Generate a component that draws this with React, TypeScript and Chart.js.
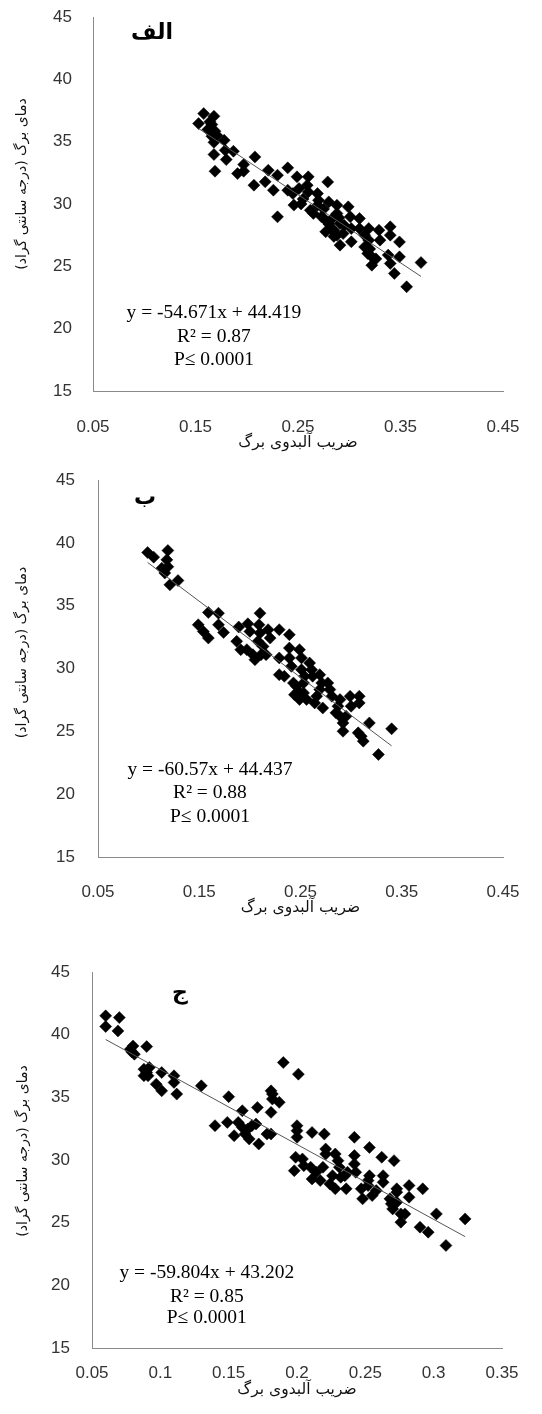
import React, { useEffect, useRef } from "react";
import { Chart, registerables } from "chart.js";

Chart.register(...registerables);

// ---------- data ----------
const albedoA = [
  0.158, 0.153, 0.168, 0.166, 0.162, 0.169, 0.166, 0.168, 0.178, 0.168, 0.179, 0.187, 0.180, 0.169, 0.208,
  0.197, 0.191, 0.197, 0.207, 0.218, 0.221, 0.226, 0.230, 0.240, 0.240, 0.245, 0.249, 0.251, 0.246, 0.230,
  0.260, 0.259, 0.260, 0.269, 0.279, 0.262, 0.265, 0.269, 0.273, 0.277, 0.280, 0.288, 0.288, 0.291, 0.282,
  0.277, 0.288, 0.294, 0.291, 0.299, 0.301, 0.302, 0.302, 0.310, 0.310, 0.315, 0.319, 0.319, 0.315, 0.318,
  0.322, 0.322, 0.329, 0.330, 0.340, 0.340, 0.338, 0.340, 0.344, 0.349, 0.349, 0.356, 0.370, 0.280, 0.285,
  0.290, 0.275, 0.295, 0.320, 0.326, 0.164, 0.171, 0.283, 0.270, 0.255, 0.285, 0.165, 0.253,
];
const leafTempA = [
  37.25, 36.45, 37.04, 36.37, 35.97, 35.84, 35.44, 34.95, 35.11, 33.97, 34.31, 34.23, 33.56, 32.63, 33.78,
  33.16, 32.44, 32.63, 31.51, 31.78, 32.71, 31.11, 32.31, 32.9, 31.11, 30.84, 32.18, 31.24, 29.91, 28.97,
  32.18, 31.51, 30.97, 30.84, 31.77, 29.5, 29.24, 29.9, 28.97, 28.7, 30.17, 29.9, 29.24, 28.43, 28.03,
  27.77, 27.5, 27.63, 26.7, 29.77, 28.97, 28.03, 26.97, 28.84, 28.03, 27.5, 28.03, 27.1, 26.56, 26.03,
  25.76, 25.09, 27.9, 27.1, 28.17, 27.5, 25.9, 25.23, 24.43, 26.96, 25.76, 23.36, 25.3, 28.4, 27.9,
  28.9, 29.6, 28.3, 26.4, 25.6, 36.6, 35.5, 28.8, 30.3, 30.4, 27.4, 36.0, 30.0,
];

const albedoB = [
  0.099, 0.105, 0.119, 0.118, 0.113, 0.119, 0.116, 0.121, 0.129, 0.159, 0.169, 0.149, 0.154, 0.159, 0.169,
  0.174, 0.189, 0.187, 0.191, 0.198, 0.200, 0.197, 0.203, 0.205, 0.210, 0.209, 0.210, 0.208, 0.213, 0.211,
  0.216, 0.218, 0.220, 0.229, 0.229, 0.239, 0.239, 0.229, 0.234, 0.239, 0.241, 0.249, 0.251, 0.243, 0.246,
  0.248, 0.244, 0.249, 0.253, 0.256, 0.251, 0.254, 0.253, 0.259, 0.261, 0.262, 0.264, 0.269, 0.271, 0.269,
  0.266, 0.272, 0.277, 0.279, 0.281, 0.289, 0.287, 0.285, 0.289, 0.292, 0.292, 0.295, 0.299, 0.300, 0.308,
  0.308, 0.307, 0.310, 0.312, 0.318, 0.327, 0.340,
];
const leafTempB = [
  39.23, 38.86, 39.39, 38.65, 37.98, 38.1, 37.6, 36.66, 37.0, 34.46, 34.4, 33.48, 32.95, 32.42, 33.48,
  32.87, 33.3, 32.16, 31.5, 33.56, 32.95, 31.5, 31.1, 30.7, 34.4, 33.48, 32.82, 32.16, 31.76, 31.1,
  31.1, 33.09, 32.42, 33.09, 30.84, 32.69, 31.63, 29.51, 29.38, 30.84, 30.17, 31.5, 30.84, 28.85, 28.58,
  28.19, 27.92, 27.53, 28.06, 27.53, 29.91, 29.38, 28.85, 30.44, 29.91, 29.38, 27.26, 29.51, 28.85, 28.32,
  27.79, 26.86, 28.85, 28.32, 27.79, 27.53, 27.0, 26.47, 26.2, 25.67, 25.01, 26.2, 27.79, 27.0, 27.79,
  27.26, 24.88, 24.61, 24.22, 25.67, 23.16, 25.2,
];

const albedoC = [
  0.060, 0.060, 0.070, 0.069, 0.078, 0.080, 0.081, 0.079, 0.090, 0.088, 0.090, 0.091, 0.088, 0.092, 0.097,
  0.101, 0.101, 0.110, 0.110, 0.112, 0.130, 0.140, 0.150, 0.149, 0.154, 0.160, 0.157, 0.160, 0.162, 0.165,
  0.164, 0.167, 0.170, 0.171, 0.172, 0.181, 0.182, 0.182, 0.181, 0.187, 0.178, 0.181, 0.190, 0.201, 0.200,
  0.200, 0.200, 0.199, 0.204, 0.198, 0.205, 0.211, 0.211, 0.210, 0.214, 0.220, 0.221, 0.221, 0.219, 0.217,
  0.224, 0.228, 0.230, 0.231, 0.228, 0.226, 0.232, 0.236, 0.235, 0.237, 0.242, 0.242, 0.242, 0.243, 0.247,
  0.248, 0.252, 0.253, 0.252, 0.253, 0.255, 0.258, 0.262, 0.263, 0.263, 0.268, 0.269, 0.270, 0.273, 0.273,
  0.273, 0.271, 0.276, 0.276, 0.279, 0.282, 0.282, 0.290, 0.292, 0.296, 0.302, 0.309, 0.323,
];
const leafTempC = [
  41.5, 40.65, 41.36, 40.3, 38.84, 39.1, 38.44, 38.63, 39.05, 37.25, 36.98, 36.72, 36.72, 37.38, 36.05,
  36.98, 35.52, 36.72, 36.19, 35.26, 35.92, 32.74, 35.05, 33.0, 31.94, 33.93, 33.0, 32.6, 32.07, 31.68,
  32.47, 32.74, 32.87, 34.19, 31.28, 35.52, 35.26, 34.86, 33.8, 34.6, 32.07, 32.07, 37.78, 36.85, 32.74,
  32.34, 31.81, 30.22, 30.08, 29.15, 29.55, 32.2, 28.49, 29.42, 29.02, 32.07, 30.88, 30.48, 29.42, 28.36,
  28.09, 30.48, 29.95, 29.42, 27.7, 28.75, 28.62, 27.7, 28.75, 29.02, 31.81, 30.35, 29.68, 29.02, 27.7,
  26.9, 27.96, 28.75, 28.36, 31.0, 27.16, 27.56, 30.22, 28.75, 28.22, 26.9, 26.5, 26.1, 26.63, 27.43,
  27.7, 29.95, 25.7, 25.04, 25.7, 27.96, 27.03, 24.64, 27.7, 24.24, 25.7, 23.18, 25.3,
];

const yTicks = [15, 20, 25, 30, 35, 40, 45];
const xTicksAB = [0.05, 0.15, 0.25, 0.35, 0.45];
const xTicksC = [0.05, 0.1, 0.15, 0.2, 0.25, 0.3, 0.35];

const slopes = [-54.671, -60.57, -59.804];
const intercepts = [44.419, 44.437, 43.202];
const rSquared = ["0.87", "0.88", "0.85"];
const pValueText = "P\u2264 0.0001";
const panelLabels = ["الف", "ب", "ج"];
const xTitle = "\u200Fضریب آلبدوی برگ\u200F";
const yTitle = "\u200Fدمای برگ (درجه سانتی گراد)\u200F";

// ---------- layout (page pixels) ----------
const W = 542;
type Geom = {
  top: number; height: number;
  left: number; plotTop: number; right: number; bottom: number;
  xLabelOff: number; xTitleOff: number; yLabelGap: number; yTitleX: number; yTitleShift: number;
};
const geoms: Geom[] = [
  { top: 0, height: 462, left: 93, plotTop: 17, right: 503, bottom: 391, xLabelOff: 36, xTitleOff: 52, yLabelGap: 21, yTitleX: 22, yTitleShift: -20 },
  { top: 462, height: 460, left: 98, plotTop: 480, right: 503, bottom: 857, xLabelOff: 35, xTitleOff: 51, yLabelGap: 23, yTitleX: 22, yTitleShift: -16 },
  { top: 922, height: 492, left: 92, plotTop: 972, right: 502, bottom: 1348, xLabelOff: 25, xTitleOff: 42, yLabelGap: 22, yTitleX: 23, yTitleShift: -9 },
];
// annotation anchors in data units
const labelAnchors = [
  { x: 0.1076, y: 43.7 },
  { x: 0.0964, y: 43.57 },
  { x: 0.1144, y: 43.3 },
];
const eqAnchors = [
  { x: 0.168, y: [21.26, 19.34, 17.49] },
  { x: 0.1606, y: [21.93, 20.1, 18.19] },
  { x: 0.134, y: [20.98, 19.06, 17.39] },
];

const TICK_SIZE = 17;
const XT_SIZE = 15.5;
const YT_SIZE = 14;

function Panel({ idx, xs, ys, xTicks }: { idx: number; xs: number[]; ys: number[]; xTicks: number[] }) {
  const ref = useRef<HTMLCanvasElement>(null);
  const g = geoms[idx];
  useEffect(() => {
    const canvas = ref.current!;
    const relTop = g.plotTop - g.top;
    const relBottom = g.bottom - g.top;
    const xScaleH = g.height - relBottom;
    const slope = slopes[idx];
    const intercept = intercepts[idx];
    const xmin = Math.min(...xs);
    const xmax = Math.max(...xs);
    const trend = [
      { x: xmin, y: slope * xmin + intercept },
      { x: xmax, y: slope * xmax + intercept },
    ];
    const fmt = (n: number) => (n < 0 ? "-" + Math.abs(n) : String(n));
    const eqLines = [
      `y = ${fmt(slope)}x + ${intercept}`,
      `R\u00B2 = ${rSquared[idx]}`,
      pValueText,
    ];
    const annot = {
      id: "annot" + idx,
      afterDatasetsDraw(chart: any) {
        const ctx = chart.ctx;
        const sx = chart.scales.x;
        const sy = chart.scales.y;
        const area = chart.chartArea;
        ctx.save();
        ctx.fillStyle = "#000";
        ctx.textAlign = "center";
        ctx.textBaseline = "middle";
        ctx.font = "bold 22px 'DejaVu Sans'";
        ctx.fillText(
          "\u200F" + panelLabels[idx] + "\u200F",
          sx.getPixelForValue(labelAnchors[idx].x),
          sy.getPixelForValue(labelAnchors[idx].y)
        );
        ctx.font = "19.5px 'Liberation Serif'";
        const ea = eqAnchors[idx];
        eqLines.forEach((t, i) => {
          ctx.fillText(t, sx.getPixelForValue(ea.x), sy.getPixelForValue(ea.y[i]));
        });
        // y axis title (rotated)
        ctx.save();
        ctx.translate(g.yTitleX, (area.top + area.bottom) / 2 + g.yTitleShift);
        ctx.rotate(-Math.PI / 2);
        ctx.font = `${YT_SIZE}px 'DejaVu Sans'`;
        ctx.fillStyle = "#111";
        ctx.fillText(yTitle, 0, 0);
        ctx.restore();
        ctx.restore();
      },
    };
    const chart = new Chart(canvas, {
      type: "scatter",
      data: {
        datasets: [
          {
            type: "line",
            data: trend,
            borderColor: "#555",
            borderWidth: 1,
            pointRadius: 0,
            fill: false,
            order: 0,
          } as any,
          {
            type: "scatter",
            data: xs.map((x, i) => ({ x, y: ys[i] })),
            pointStyle: "rectRot",
            pointRadius: 6,
            backgroundColor: "#000",
            borderColor: "#000",
            borderWidth: 0.5,
            order: 1,
          } as any,
        ],
      },
      options: {
        responsive: false,
        animation: false,
        layout: { padding: { left: 0, top: relTop, right: W - g.right, bottom: 0 } },
        plugins: { legend: { display: false }, tooltip: { enabled: false } },
        scales: {
          x: {
            type: "linear",
            min: xTicks[0],
            max: xTicks[xTicks.length - 1],
            grid: { display: false, drawTicks: false },
            border: { display: true, color: "#8a8a8a", width: 1 },
            afterBuildTicks: (s: any) => {
              s.ticks = xTicks.map((v) => ({ value: v }));
            },
            afterFit: (s: any) => {
              s.height = xScaleH;
              s.paddingLeft = 0;
              s.paddingRight = 0;
            },
            ticks: {
              font: { family: "'Liberation Sans', Arial, sans-serif", size: TICK_SIZE },
              color: "#333",
              padding: g.xLabelOff - (TICK_SIZE * 1.2) / 2,
              maxRotation: 0,
              autoSkip: false,
              callback: (v: any) => String(v),
            },
            title: {
              display: true,
              text: xTitle,
              font: { family: "'DejaVu Sans'", size: XT_SIZE },
              color: "#111",
              padding: { top: 0, bottom: xScaleH - g.xTitleOff - (XT_SIZE * 1.2) / 2 },
            },
          },
          y: {
            type: "linear",
            min: yTicks[0],
            max: yTicks[yTicks.length - 1],
            grid: { display: false, drawTicks: false },
            border: { display: true, color: "#8a8a8a", width: 1 },
            afterBuildTicks: (s: any) => {
              s.ticks = yTicks.map((v) => ({ value: v }));
            },
            afterFit: (s: any) => {
              s.width = g.left;
              s.paddingTop = 0;
              s.paddingBottom = 0;
            },
            ticks: {
              font: { family: "'Liberation Sans', Arial, sans-serif", size: TICK_SIZE },
              color: "#333",
              padding: g.yLabelGap,
              autoSkip: false,
              callback: (v: any) => String(v),
            },
            title: { display: false },
          },
        },
      } as any,
      plugins: [annot],
    });
    return () => chart.destroy();
  }, []);
  return (
    <canvas
      ref={ref}
      width={W}
      height={g.height}
      style={{ position: "absolute", left: 0, top: g.top, width: W, height: g.height }}
    />
  );
}

export default function App() {
  return (
    <div style={{ position: "absolute", left: 0, top: 0, width: W, height: 1414, background: "#fff" }}>
      <Panel idx={0} xs={albedoA} ys={leafTempA} xTicks={xTicksAB} />
      <Panel idx={1} xs={albedoB} ys={leafTempB} xTicks={xTicksAB} />
      <Panel idx={2} xs={albedoC} ys={leafTempC} xTicks={xTicksC} />
    </div>
  );
}
